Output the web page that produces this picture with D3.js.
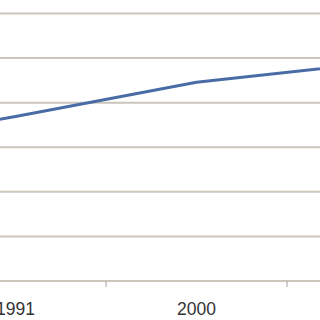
<!DOCTYPE html>
<html>
<head>
<meta charset="utf-8">
<script src="https://cdn.jsdelivr.net/npm/d3@7"></script>
<style>
  html, body { margin: 0; padding: 0; background: #fff; }
  svg { display: block; }
</style>
</head>
<body>
<div id="chart"></div>
<script>
// categories shown on the axis (one label every 9 years)
var years = ["1982", "1991", "2000", "2009"];
// series values
var values = [29.5, 36.9, 44.6, 49.0];
// y gridline values
var yTicks = [0, 10, 20, 30, 40, 50, 60];

var width = 320, height = 320;

var svg = d3.select("#chart").append("svg")
  .attr("width", width)
  .attr("height", height);

// the plot is wider than the window, only the middle is visible
var x = d3.scaleBand()
  .domain(years)
  .range([-256, 468])
  .padding(0);

var y = d3.scaleLinear()
  .domain([0, 60])
  .range([281, 13.5]);

var gridColor = "#cbc5bc";

// horizontal gridlines
svg.append("g")
  .selectAll("line")
  .data(yTicks)
  .enter().append("line")
    .attr("x1", 0)
    .attr("x2", width)
    .attr("y1", function(d) { return y(d); })
    .attr("y2", function(d) { return y(d); })
    .style("stroke", gridColor)
    .style("stroke-width", 2);

// tick marks between categories
var bounds = years.slice(1).map(function(d) { return x(d); });
svg.append("g")
  .selectAll("line")
  .data(bounds)
  .enter().append("line")
    .attr("x1", function(d) { return d; })
    .attr("x2", function(d) { return d; })
    .attr("y1", y(0))
    .attr("y2", y(0) + 6)
    .style("stroke", "#a9a49c")
    .style("stroke-width", 1);

// category labels, only those whose centre falls inside the window
var mid = function(d) { return x(d) + x.bandwidth() / 2; };
svg.append("g")
  .selectAll("text")
  .data(years.filter(function(d) { return mid(d) >= 0 && mid(d) <= width; }))
  .enter().append("text")
    .attr("x", mid)
    .attr("y", 315)
    .attr("text-anchor", "middle")
    .style("font-family", "'Liberation Sans', Arial, sans-serif")
    .style("font-size", "17.5px")
    .style("fill", "#333")
    .text(function(d) { return d; });

// the series line
var line = d3.line()
  .x(function(d, i) { return mid(years[i]); })
  .y(function(d) { return y(d); });

svg.append("path")
  .datum(values)
  .attr("d", line)
  .style("fill", "none")
  .style("stroke", "#4a6ca6")
  .style("stroke-width", 3)
  .style("stroke-linejoin", "round");
</script>
</body>
</html>
